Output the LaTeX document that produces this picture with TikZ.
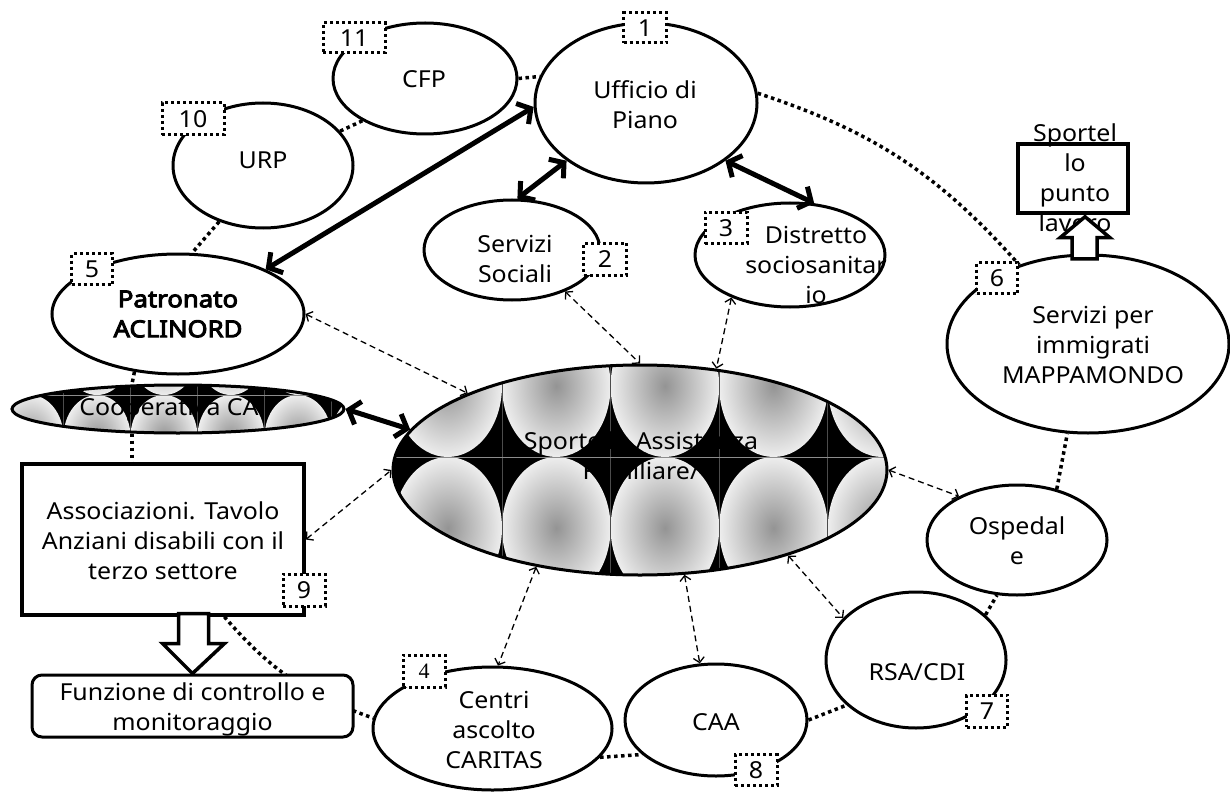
\documentclass[tikz,border=0pt]{standalone}
\usepackage{fontspec}
\setmainfont{Noto Sans}[FakeStretch=1.065]
\newfontfamily\boldsans{Noto Sans}[FakeStretch=1.1, FakeBold=4]
\newfontfamily\numserif{Liberation Serif}
\usetikzlibrary{shapes.geometric,arrows.meta,calc}

% soft grey glow used inside every cell of the tiled fills
\pgfdeclareradialshading{cellglow}{\pgfpoint{0bp}{0bp}}{%
  color(0bp)=(black!42); color(30bp)=(white); color(50bp)=(white)}

\tikzset{
  oval/.style={ellipse, draw, line width=3pt, fill=white, inner sep=0pt},
  lbl/.style={align=center, inner sep=0pt, font=\fontsize{23.4}{30}\selectfont},
  numbox/.style={draw, fill=white, line width=3pt, dash pattern=on 3pt off 3pt,
    inner sep=0pt, minimum width=42pt, minimum height=31pt,
    font=\fontsize{23.4}{26}\selectfont},
  widebox/.style={numbox, minimum width=62pt},
  ring/.style={line width=3.5pt, dash pattern=on 3.5pt off 3.5pt},
  strong/.style={line width=5pt, >={Straight Barb[length=10pt,width=24pt]}, <->},
  link/.style={line width=1.3pt, dash pattern=on 6pt off 4pt,
    >={Straight Barb[length=5pt,width=11pt]}, <->},
  blockarrow/.style={draw, fill=white, line width=3.5pt, line join=miter},
  frame/.style={draw, line width=3.5pt, inner sep=0pt},
}

% black ground clipped to an oval, tiled with shaded cells
% #1,#2 centre  #3,#4 radii  #5 a column edge  #6 a row edge  #7,#8 cell size
\newcommand\tiledoval[8]{%
  \begin{scope}
    \clip (#1,#2) ellipse [x radius=#3pt, y radius=#4pt];
    \fill[black] (#1-#3,#2-#4) rectangle (#1+#3,#2+#4);
    \pgfmathtruncatemacro\cfirst{floor((#1-#3-#5)/#7)}
    \pgfmathtruncatemacro\clast{floor((#1+#3-#5)/#7)}
    \pgfmathtruncatemacro\rfirst{floor((#2-#4-#6)/#8)}
    \pgfmathtruncatemacro\rlast{floor((#2+#4-#6)/#8)}
    \pgfmathsetmacro\hw{#7/2}
    \pgfmathsetmacro\hh{#8/2}
    \foreach \ci in {\cfirst,...,\clast}{
      \foreach \ri in {\rfirst,...,\rlast}{
        \shade[shading=cellglow]
          ({#5+(\ci+0.5)*#7},{#6+(\ri+0.5)*#8})
          ellipse [x radius=\hw pt, y radius=\hh pt];
      }
      \draw[black!70, line width=0.8pt] ({#5+\ci*#7},{#2-#4}) -- ({#5+\ci*#7},{#2+#4});
    }
    \foreach \ri in {\rfirst,...,\rlast}{
      \draw[black!45, line width=0.8pt] ({#1-#3},{#6+\ri*#8}) -- ({#1+#3},{#6+\ri*#8});
    }
  \end{scope}}

\begin{document}
\begin{tikzpicture}[x=1pt, y=-1pt]
\useasboundingbox (0,0) rectangle (1230,794);

% ---------- patterned ovals ----------
\tiledoval{640}{470}{247}{105}{393.4}{457}{108.6}{142}
\tiledoval{178}{409}{166}{24}{63.5}{395}{67}{84}

% ---------- ovals ----------
\node[oval, minimum width=222pt, minimum height=160pt] (uff) at (646,103) {};
\node[oval, minimum width=184pt, minimum height=111pt] (cfp) at (425,78.5) {};
\node[oval, minimum width=180pt, minimum height=125pt] (urp) at (263,165.5) {};
\node[oval, minimum width=176pt, minimum height=100pt] (ss) at (512,250) {};
\node[oval, minimum width=190pt, minimum height=104pt] (dist) at (790,255) {};
\node[oval, minimum width=252pt, minimum height=120pt] (patr) at (178,314) {};
\node[oval, fill=none, minimum width=332pt, minimum height=48pt] (coop) at (178,409) {};
\node[oval, fill=none, minimum width=494pt, minimum height=210pt] (sport) at (640,470) {};
\node[oval, minimum width=282pt, minimum height=178pt] (immig) at (1088,344) {};
\node[oval, minimum width=180pt, minimum height=110pt] (osp) at (1017,540) {};
\node[oval, minimum width=180pt, minimum height=136pt] (rsa) at (916,660) {};
\node[oval, minimum width=182pt, minimum height=112pt] (caa) at (716,720) {};
\node[oval, minimum width=239pt, minimum height=123pt] (centri) at (492.5,728.5) {};
\node[frame, fill=white, minimum width=282pt, minimum height=151pt] (assoc) at (163,539.5) {};

% ---------- dotted ring between the services ----------
\draw[ring] (urp.24) -- (cfp.214);
\draw[ring] (cfp.east) -- (uff.166);
\draw[ring] (uff.5) to[bend left=15] (immig.131);
\draw[ring] (urp.232) -- (patr.77);
\draw[ring] (patr.233) -- (coop.152);
\draw[ring] (coop.208) -- (coop.208 |- assoc.north);
\draw[ring] ($(assoc.south)!0.43!(assoc.south east)$) to[bend right=15] (centri.175);
\draw[ring] (centri.345) -- (caa.205);
\draw[ring] (caa.east) -- (rsa.213);
\draw[ring] (rsa.33) -- (osp.250);
\draw[ring] (osp.52) -- (immig.257);

% ---------- control box and its block arrow ----------
\node[frame, fill=white, rounded corners=10pt, line width=3pt,
      minimum width=321pt, minimum height=62pt] (funz) at (192.5,706) {};
\coordinate (downtip) at (funz.north);
\draw[blockarrow] (downtip) -- ++(32,-30) -- ++(-16,0) -- ++(0,-30) -- ++(-30,0)
  -- ++(0,30) -- ++(-16,0) -- cycle;

% ---------- labels ----------
\node[lbl] (uffT) at (645,105) {Ufficio di\\Piano};
\node[lbl] (cfpT) at (424,79) {CFP};
\node[lbl] (urpT) at (263,160) {URP};
\node[lbl] (ssT) at (515,259) {Servizi\\Sociali};
\node[lbl] (distT) at (816,265) {Distretto\\sociosanitar\\io};
\node[lbl, font=\fontsize{23.4}{30}\boldsans] (patrT) at (178,314) {Patronato\\ACLINORD};
\node[lbl] (coopT) at (169,410) {Cooperativa CA};
\node[lbl] (sportT) at (641,456) {Sportello Assistenza\\Familiare/};
\node[lbl] (assocT) at (163,541) {Associazioni. Tavolo\\Anziani disabili con il\\terzo settore};
\node[lbl] (funzT) at (192.5,709) {Funzione di controllo e\\monitoraggio};
\node[lbl] (immigT) at (1093,345) {Servizi per\\immigrati\\MAPPAMONDO};
\node[lbl] (ospT) at (1017,541) {Ospedal\\e};
\node[lbl] (rsaT) at (917,672) {RSA/CDI};
\node[lbl] (caaT) at (716,722) {CAA};
\node[lbl] (centriT) at (494,730) {Centri\\ascolto\\CARITAS};

% ---------- job desk box ----------
\node[lbl] (splT) at (1075,178) {Sportel\\lo\\punto\\lavoro};
\node[frame, minimum width=110pt, minimum height=69pt] (spl) at (1073,178.5) {};
\coordinate (uptip) at ($(spl.south)+(12,2)$);
\draw[blockarrow] (uptip) -- ++(25,21) -- ++(-13,0) -- ++(0,21) -- ++(-25,0)
  -- ++(0,-21) -- ++(-12,0) -- cycle;

% ---------- strong two-way links ----------
\draw[strong] (uff.182) -- (patr.27);
\draw[strong] (uff.216) -- (ss.84);
\draw[strong] (uff.324) -- (dist.65);
\draw[strong] (coop.east) -- (sport.170);

% ---------- dashed two-way links to the help desk ----------
\draw[link] (patr.east) -- (sport.156);
\draw[link] (ss.322) -- (sport.north);
\draw[link] (dist.216) -- (sport.53);
\draw[link] (assoc.east) -- (sport.west);
\draw[link] (sport.223) -- (centri.85);
\draw[link] (sport.293) -- (caa.106);
\draw[link] (sport.330) -- (rsa.150);
\draw[link] (sport.east) -- (osp.143);

% ---------- numbers ----------
\node[numbox, minimum width=43pt, minimum height=30pt] (n1) at (645,28) {1};
\node[numbox, minimum width=43pt, minimum height=32pt] (n2) at (605,259) {2};
\node[numbox] (n3) at (726,228) {3};
\node[numbox, minimum height=32pt, font=\fontsize{22}{24}\numserif] (n4) at (424,671) {4};
\node[numbox, minimum width=41pt] (n5) at (92,269) {5};
\node[numbox, minimum width=41pt] (n6) at (997,278) {6};
\node[numbox, minimum width=41pt, minimum height=32pt] (n7) at (987,711) {7};
\node[numbox] (n8) at (756,770) {8};
\node[numbox, minimum height=32pt] (n9) at (304,590) {9};
\node[widebox, minimum height=32pt] (n10) at (193,119) {10};
\node[widebox, minimum height=30pt] (n11) at (354,38) {11};
\end{tikzpicture}
\end{document}
